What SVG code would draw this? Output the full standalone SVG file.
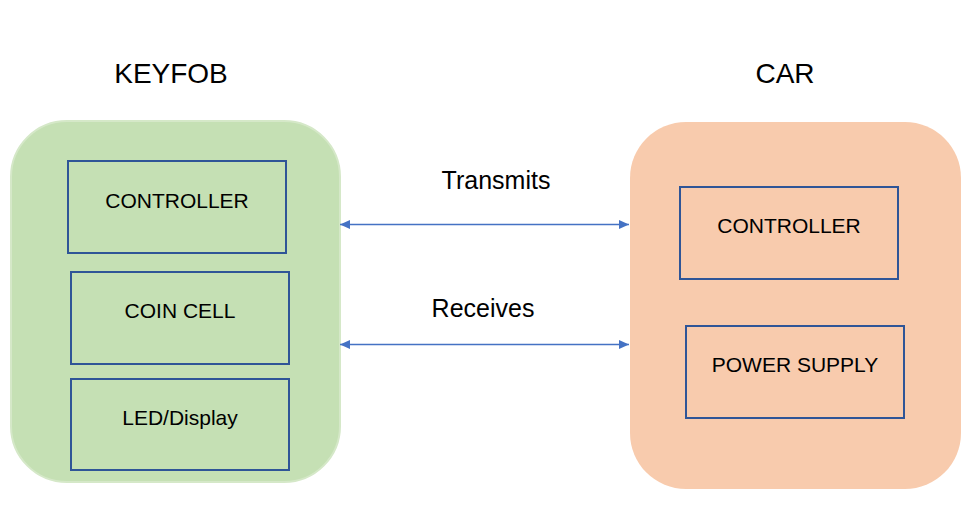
<svg xmlns="http://www.w3.org/2000/svg" width="969" height="532" viewBox="0 0 969 532">
<style>
text{font-family:"Liberation Sans",Arial,sans-serif;fill:#000;text-anchor:middle}
.title{font-size:28px}
.lbl{font-size:25px}
.in{font-size:21px}
.box{fill:none;stroke:#2F5597;stroke-width:2}
.conn{stroke:#4472C4;stroke-width:1.3;fill:none;marker-start:url(#ah);marker-end:url(#ah)}
</style>
<defs>
<marker id="ah" viewBox="0 0 10 10" refX="10" refY="5" markerWidth="10" markerHeight="9" markerUnits="userSpaceOnUse" orient="auto-start-reverse" preserveAspectRatio="none">
<path d="M0,0 L10,5 L0,10 Z" fill="#4472C4"/>
</marker>
</defs>
<rect width="969" height="532" fill="#fff"/>
<g id="keyfob">
<rect x="11" y="121" width="329" height="361" rx="56" ry="56" fill="#C5E0B4" stroke="#D5E8C8" stroke-width="2"/>
<text class="title" x="171" y="83">KEYFOB</text>
</g>
<g id="car">
<rect x="630" y="122" width="331" height="367" rx="56" ry="56" fill="#F8CBAD"/>
<text class="title" x="785" y="83">CAR</text>
</g>
<g id="keyfob-controller">
<rect class="box" x="68" y="161" width="218" height="92"/>
<text class="in" x="177" y="208">CONTROLLER</text>
</g>
<g id="coin-cell">
<rect class="box" x="71" y="272" width="218" height="92"/>
<text class="in" x="180" y="318">COIN CELL</text>
</g>
<g id="led-display">
<rect class="box" x="71" y="379" width="218" height="91"/>
<text class="in" x="180" y="425">LED/Display</text>
</g>
<g id="car-controller">
<rect class="box" x="680" y="187" width="218" height="92"/>
<text class="in" x="789" y="233">CONTROLLER</text>
</g>
<g id="power-supply">
<rect class="box" x="686" y="326" width="218" height="92"/>
<text class="in" x="795" y="372">POWER SUPPLY</text>
</g>
<g id="connectors">
<line class="conn" x1="340" y1="224.5" x2="629" y2="224.5"/>
<line class="conn" x1="340" y1="344.5" x2="629" y2="344.5"/>
<text class="lbl" x="496" y="189">Transmits</text>
<text class="lbl" x="483" y="317">Receives</text>
</g>
</svg>
